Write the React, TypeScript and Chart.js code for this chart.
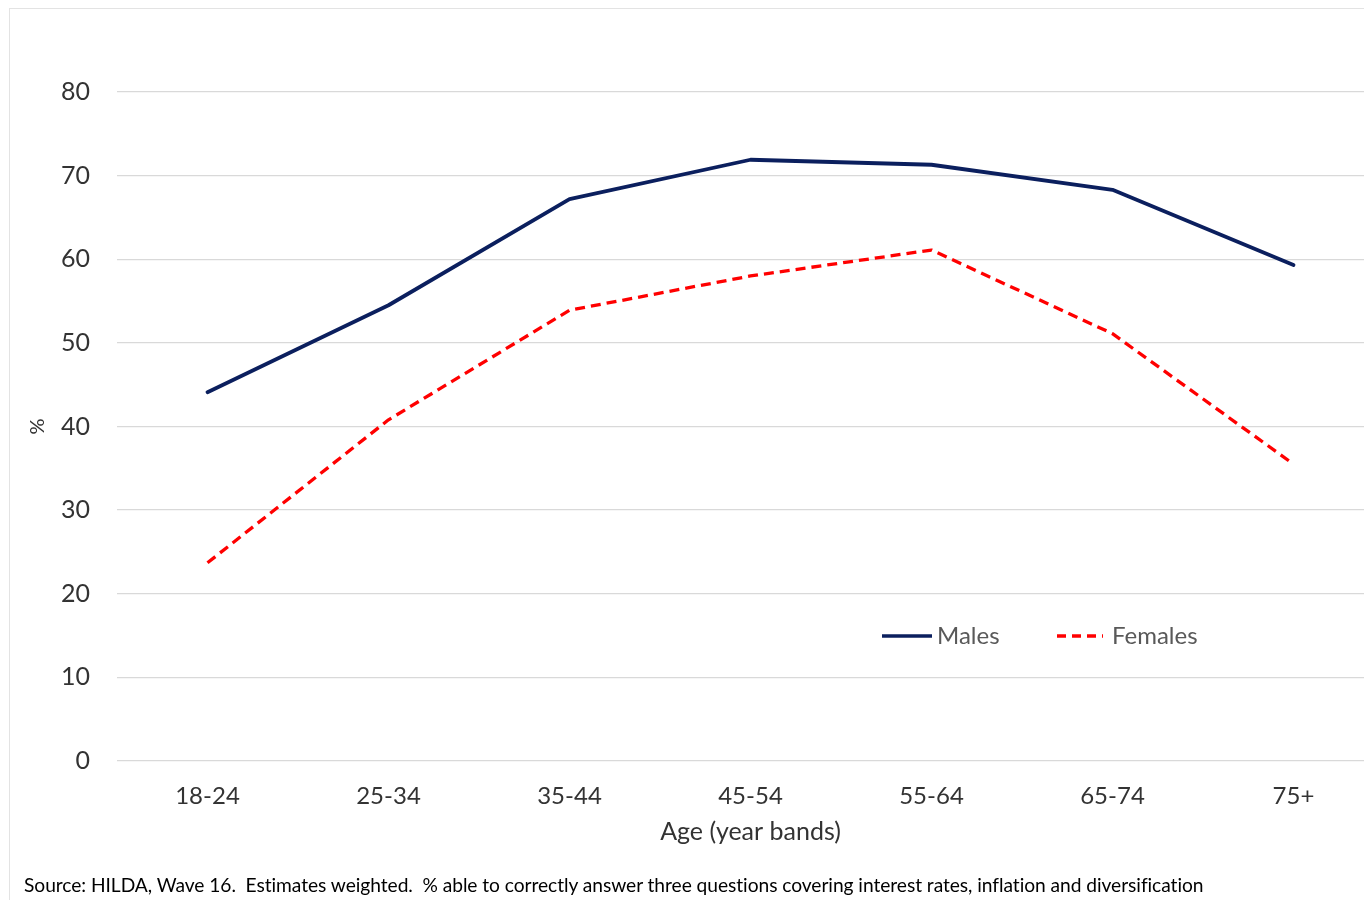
import React, { useEffect, useRef } from "react";
import { Chart, registerables } from "chart.js";

Chart.register(...registerables);

const categories = ["18-24", "25-34", "35-44", "45-54", "55-64", "65-74", "75+"];
const males = [44.1, 54.5, 67.2, 71.9, 71.3, 68.3, 59.3];
const females = [23.7, 40.8, 53.9, 58.0, 61.1, 51.1, 35.5];
const yTicks = [0, 10, 20, 30, 40, 50, 60, 70, 80];
const seriesNames = ["Males", "Females"];
const sourceNote =
  "Source: HILDA, Wave 16.  Estimates weighted.  % able to correctly answer three questions covering interest rates, inflation and diversification";

const FONT = "Lato, 'Open Sans', sans-serif";
const TEXT_COLOR = "#333333";
const MALE_COLOR = "#0b1f5e";
const FEMALE_COLOR = "#ff0000";

const legendPlugin = {
  id: "insideLegend",
  afterDraw(chart: any) {
    const ctx = chart.ctx;
    const y = 636;
    const items = [
      { x0: 882, x1: 932, tx: 937, color: MALE_COLOR, dash: [] as number[], label: seriesNames[0] },
      { x0: 1057, x1: 1103, tx: 1112, color: FEMALE_COLOR, dash: [9, 6], label: seriesNames[1] },
    ];
    ctx.save();
    items.forEach((it) => {
      ctx.beginPath();
      ctx.setLineDash(it.dash);
      ctx.strokeStyle = it.color;
      ctx.lineWidth = 3.5;
      ctx.lineCap = "butt";
      ctx.moveTo(it.x0, y);
      ctx.lineTo(it.x1, y);
      ctx.stroke();
      ctx.setLineDash([]);
      ctx.fillStyle = "#595959";
      ctx.font = `24px ${FONT}`;
      ctx.textBaseline = "middle";
      ctx.textAlign = "left";
      ctx.fillText(it.label, it.tx, y);
    });
    ctx.restore();
  },
};

export default function App() {
  const ref = useRef<HTMLCanvasElement | null>(null);

  useEffect(() => {
    if (!ref.current) return;
    const chart = new Chart(ref.current, {
      type: "line",
      data: {
        labels: categories,
        datasets: [
          {
            label: seriesNames[0],
            data: males,
            borderColor: MALE_COLOR,
            backgroundColor: MALE_COLOR,
            borderWidth: 3.8,
            pointRadius: 0,
            tension: 0,
            borderJoinStyle: "round",
            borderCapStyle: "round",
          },
          {
            label: seriesNames[1],
            data: females,
            borderColor: FEMALE_COLOR,
            backgroundColor: FEMALE_COLOR,
            borderWidth: 3.3,
            borderDash: [10, 6],
            pointRadius: 0,
            tension: 0,
            borderJoinStyle: "round",
          },
        ],
      },
      options: {
        animation: false,
        responsive: false,
        maintainAspectRatio: false,
        layout: { padding: { left: 0, top: 92, right: 16, bottom: 49 } },
        plugins: {
          legend: { display: false },
          tooltip: { enabled: false },
        },
        scales: {
          x: {
            type: "category",
            offset: true,
            grid: { display: false, drawTicks: false },
            border: { display: false },
            ticks: {
              color: TEXT_COLOR,
              font: { family: FONT, size: 24 },
              padding: 21,
              maxRotation: 0,
              autoSkip: false,
            },
            title: {
              display: true,
              text: "Age (year bands)",
              color: TEXT_COLOR,
              font: { family: FONT, size: 25 },
              padding: { top: 0, bottom: 4 },
            },
            afterFit: (s: any) => {
              s.height = 90;
            },
          },
          y: {
            min: 0,
            max: 80,
            afterBuildTicks: (s: any) => {
              s.ticks = yTicks.map((v) => ({ value: v }));
            },
            grid: { color: "#d9d9d9", lineWidth: 1.3, drawTicks: false },
            border: { display: false },
            ticks: {
              color: TEXT_COLOR,
              font: { family: FONT, size: 25 },
              padding: 27,
            },
            title: {
              display: true,
              text: "%",
              color: TEXT_COLOR,
              font: { family: FONT, size: 20 },
              padding: { top: 26, bottom: 0 },
            },
            afterFit: (s: any) => {
              s.width = 117;
            },
          },
        },
      },
      plugins: [legendPlugin],
    });
    return () => chart.destroy();
  }, []);

  return (
    <div
      style={{
        position: "fixed",
        left: 0,
        top: 0,
        width: 1364,
        height: 900,
        overflow: "hidden",
        background: "#ffffff",
      }}
    >
      <div
        style={{
          position: "absolute",
          left: 9,
          top: 8,
          width: 1500,
          height: 1000,
          border: "1px solid #e3e3e3",
        }}
      />
      <canvas
        ref={ref}
        width={1400}
        height={900}
        style={{ position: "absolute", left: 0, top: 0, width: 1400, height: 900 }}
      />
      <div
        style={{
          position: "absolute",
          left: 24,
          top: 873,
          fontFamily: FONT,
          fontSize: 19.2,
          color: "#000000",
          whiteSpace: "pre",
          lineHeight: "24px",
          letterSpacing: "-0.05px",
        }}
      >
        {sourceNote}
      </div>
    </div>
  );
}
